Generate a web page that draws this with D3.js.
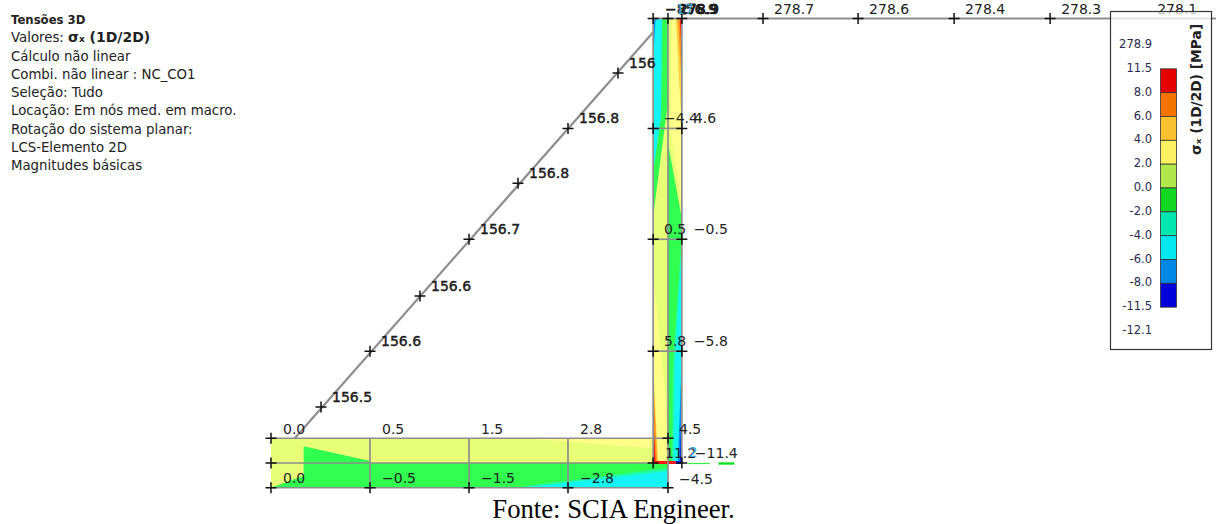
<!DOCTYPE html>
<html>
<head>
<meta charset="utf-8">
<script src="https://d3js.org/d3.v7.min.js"></script>
<style>
  html, body { margin: 0; background: #fff; }
  text { font-family: "DejaVu Sans", sans-serif; fill: #222; }
</style>
</head>
<body>
<div id="app"></div>
<script>
// info block, top left
const infoLines = ['Tensões 3D', 'Valores: ', 'Cálculo não linear', 'Combi. não linear : NC_CO1', 'Seleção: Tudo',
  'Locação: Em nós med. em macro.', 'Rotação do sistema planar:', 'LCS-Elemento 2D', 'Magnitudes básicas']

// legend
const legendTicks = ['278.9', '11.5', '8.0', '6.0', '4.0', '2.0', '0.0', '-2.0', '-4.0', '-6.0', '-8.0', '-11.5', '-12.1']
const legendColors = ['#e60000', '#f57300', '#f9c02f', '#fbf060', '#b0e84a', '#10d820', '#00e8b0', '#00e8f0', '#0088e8', '#0000d8']

// stress levels (MPa) of the contour bands, high to low
const bandLevels = [10, 7, 5, 3, 1, -1, -3, -5, -7, -10]
const bandColors = ['#ff1414', '#ff8c1e', '#ffcf40', '#ffff88', '#e8ff78', '#30ff50', '#20ffa8', '#14f4f4', '#0090f4', '#0020e0']

// geometry in metres
const wallX = [3.86, 4.01, 4.15]
const wallY = [0, 1.13, 2.26, 3.38, 4.49]
const slabX = [0, 1, 2, 3]
const slabY = [0.25, 0, -0.25]
const beamX = [4.97, 5.93, 6.9, 7.87, 8.84]
const diagX = [0.505, 1, 1.505, 2, 2.495, 3, 3.505]
const diagY = [0.566, 1.13, 1.687, 2.26, 2.826, 3.38, 3.94]
const diagEnds = [[0.24, 0.25], [3.86, 4.35]]

// labels
const beamLabels = ['278.7', '278.6', '278.4', '278.3', '278.1']
const diagLabels = ['156.5', '156.6', '156.6', '156.7', '156.8', '156.8', '156']
const slabTopLabels = ['0.0', '0.5', '1.5', '2.8']
const slabBottomLabels = ['0.0', '−0.5', '−1.5', '−2.8']
const wallLeftLabels = ['5.8', '0.5', '−4.4']
const wallRightLabels = ['−5.8', '−0.5', '4.6']

// contour polygons: level + outline in metres, painted in order
const slabZones = [
  [1, [[0, 0.25], [3.86, 0.25], [3.86, 0], [0, 0]]],
  [3, [[2.55, 0.25], [3.86, 0.25], [3.86, 0.15]]],
  [-1, [[0.33, 0.17], [1, 0.02], [1, 0], [0.33, 0]]],
  [-1, [[0, 0], [4.01, 0], [4.01, -0.25], [0, -0.25]]],
  [1, [[0, 0], [0.33, 0], [0.33, -0.13], [0, -0.25]]],
  [-3, [[2.45, -0.25], [4.01, -0.05], [4.01, -0.25]]],
  [-5, [[2.55, -0.25], [4.01, -0.08], [4.01, -0.25]]]
]
const wallZones = [
  [1, [[3.86, 0], [4.15, 0], [4.15, 4.49], [3.86, 4.49]]],
  // left half
  [-1, [[3.86, 4.49], [4.01, 4.49], [4.01, 3.65], [3.86, 2.49]]],
  [-5, [[3.86, 4.49], [3.95, 4.49], [3.94, 3.5], [3.86, 2.94]]],
  [-7, [[3.86, 4.49], [3.885, 4.49], [3.86, 4.05]]],
  [3, [[3.86, 1.9], [3.99, 0.6], [4, 0], [3.86, 0]]],
  [5, [[3.86, 1], [3.91, 0], [3.86, 0]]],
  [7, [[3.86, 0.9], [3.9, 0], [3.86, 0]]],
  [10, [[3.86, 0.45], [3.885, 0], [3.86, 0]]],
  // right half
  [3, [[4.05, 4.49], [4.15, 4.49], [4.15, 2.6], [4.03, 3.4]]],
  [5, [[4.09, 4.49], [4.15, 4.49], [4.15, 3.4], [4.12, 3.9]]],
  [7, [[4.11, 4.49], [4.15, 4.49], [4.15, 3.8]]],
  [10, [[4.13, 4.49], [4.15, 4.49], [4.15, 4.1]]],
  [-1, [[4.01, 3.18], [4.02, 3.18], [4.15, 2.47], [4.15, 0], [4.01, 0]]],
  [-3, [[4.15, 2.3], [4.06, 1], [4.05, 0], [4.15, 0]]],
  [-5, [[4.15, 2.2], [4.08, 1], [4.07, 0], [4.15, 0]]],
  [-7, [[4.15, 1.1], [4.11, 0], [4.15, 0]]],
  [-10, [[4.15, 0.7], [4.13, 0], [4.15, 0]]],
  // stress peaks along the base of the wall
  [10, [[3.86, 0.02], [4.09, 0.02], [4.09, -0.01], [3.86, -0.01]]],
  [-10, [[4.09, 0.02], [4.15, 0.02], [4.15, -0.01], [4.09, -0.01]]]
]

const W = 1216, H = 524
const svg = d3.select('#app').append('svg').attr('width', W).attr('height', H).style('display', 'block')

const x = d3.scaleLinear().domain([0, 1]).range([271, 370])
const y = d3.scaleLinear().domain([0, 1]).range([463, 364])
const band = d3.scaleOrdinal().domain(bandLevels).range(bandColors)
const outline = d3.line().x(d => x(d[0])).y(d => y(d[1]))

// contour bands
svg.append('g').selectAll('path').data(slabZones.concat(wallZones)).join('path')
  .attr('d', d => outline(d[1]) + 'Z')
  .attr('fill', d => band(d[0]))

// member outlines
const grey = svg.append('g').attr('stroke', '#8e8e8e').attr('stroke-width', 1.7).attr('fill', 'none')
function seg(a, b, sw) {
  grey.append('path').attr('d', outline([a, b])).attr('stroke-width', sw || null)
}
slabY.forEach(v => seg([0, v], [v < 0 ? wallX[1] : wallX[0], v]))
seg([wallX[1], 0], [wallX[1], slabY[2]])
slabX.slice(1).forEach(v => seg([v, slabY[0]], [v, slabY[2]]))
wallX.forEach(v => seg([v, 0], [v, wallY[4]]))
seg([wallX[0], slabY[0]], [wallX[1], slabY[0]])
wallY.slice(1, 4).forEach(v => seg([wallX[0], v], [wallX[2], v]))
seg(diagEnds[0], diagEnds[1], 2.2)
seg([wallX[0], wallY[4]], [12.3, wallY[4]], 2)

// node crosses
const crossPts = []
diagX.forEach((v, i) => crossPts.push([v, diagY[i]]))
beamX.slice(0, 4).forEach(v => crossPts.push([v, wallY[4]]))
wallX.forEach(v => crossPts.push([v, wallY[4]]))
;[wallX[0], wallX[2]].forEach(v => wallY.slice(1, 4).forEach(h => crossPts.push([v, h])))
slabX.forEach(v => crossPts.push([v, slabY[2]]))
crossPts.push([0, slabY[0]], [0, slabY[1]], [wallX[0], 0], [wallX[2], 0], [wallX[1], slabY[0]], [wallX[1], slabY[2]])
svg.append('g').selectAll('path').data(crossPts).join('path')
  .attr('d', d => `M${x(d[0]) - 5.5},${y(d[1])}h11M${x(d[0])},${y(d[1]) - 5.5}v11`)
  .attr('stroke', '#111').attr('stroke-width', 1.5).attr('fill', 'none')

// value labels
function labels(list, xs, ys, dx, dy, heavy) {
  svg.append('g').selectAll('text').data(list).join('text')
    .attr('x', (d, i) => x(xs[i]) + dx)
    .attr('y', (d, i) => y(ys[i]) + dy)
    .attr('font-size', 14)
    .attr('stroke', heavy ? '#111' : null)
    .attr('stroke-width', heavy ? 0.4 : null)
    .text(d => d)
}
labels(beamLabels, beamX, beamX.map(() => wallY[4]), 11, -4)
labels(diagLabels, diagX, diagY, 11, -5, true)
labels(slabTopLabels, slabX, slabX.map(() => slabY[0]), 12, -4)
labels(slabBottomLabels, slabX, slabX.map(() => slabY[2]), 12, -5)
labels(wallLeftLabels, wallX.map(() => wallX[1]), wallY.slice(1, 4), -4, -5)
labels(wallRightLabels, wallX.map(() => wallX[2]), wallY.slice(1, 4), 12, -5)
labels(['4.5', '−4.5'], [wallX[1], wallX[1]], [slabY[0], slabY[2]], 11, -4)
labels(['11.2'], [wallX[1]], [0], -3, -5)
labels(['−11.4'], [wallX[2]], [0], 13, -5)
labels(['−856.9', '278.9', '278.9'], [wallX[1], wallX[2], wallX[2]], [wallY[4], wallY[4], wallY[4]], -3, -4, true)
labels(['17'], [wallX[2]], [wallY[4]], -6, -4)
labels(['2'], [wallX[2]], [0], 7, -6)
svg.selectAll('text').filter(function () { return this.textContent === '17' || this.textContent === '2' })
  .style('fill', '#3aa6d8')

// the peak markers next to -11.4
svg.append('path').attr('d', outline([[4.21, -0.005], [4.43, -0.005]])).attr('stroke', '#30f040').attr('stroke-width', 1.2)
svg.append('path').attr('d', outline([[4.52, -0.005], [4.68, -0.005]])).attr('stroke', '#10e020').attr('stroke-width', 2.4)

// info block
const info = svg.append('g').attr('font-size', 13.3)
info.selectAll('text').data(infoLines).join('text')
  .attr('x', 11).attr('y', (d, i) => 24 + i * 18.25)
  .attr('font-weight', (d, i) => i === 0 ? 'bold' : null)
  .attr('font-size', (d, i) => i === 0 ? 11.7 : null)
  .text(d => d)
const sigma = info.selectAll('text').filter((d, i) => i === 1)
sigma.append('tspan').attr('font-weight', 'bold').attr('font-size', 14).text('σₓ (1D/2D)')

// legend box sits over the beam, beam shows through faintly
const legend = svg.append('g')
legend.append('rect').attr('x', 1110.5).attr('y', 11.5).attr('width', 101).attr('height', 338)
  .attr('fill', 'rgba(255,255,255,0.75)').attr('stroke', '#333').attr('stroke-width', 1.2)
const legY = d3.scaleLinear().domain([0, legendTicks.length - 1]).range([44, 330])
legend.selectAll('.tick').data(legendTicks).join('text').attr('class', 'tick')
  .attr('x', 1152).attr('y', (d, i) => legY(i) + 4).attr('text-anchor', 'end')
  .attr('font-size', 11.5).style('fill', '#2a2a50').text(d => d)
legend.selectAll('rect.cell').data(legendColors).join('rect').attr('class', 'cell')
  .attr('x', 1160.5).attr('width', 16)
  .attr('y', (d, i) => legY(i + 1) + 1).attr('height', (d, i) => legY(i + 2) - legY(i + 1))
  .attr('fill', d => d).attr('stroke', '#333').attr('stroke-width', 0.8)
legend.append('text').attr('transform', 'translate(1201,155) rotate(-90)')
  .attr('font-size', 13.8).attr('font-weight', 'bold').text('σₓ (1D/2D) [MPa]')

// caption
svg.append('text').attr('x', 613.5).attr('y', 517.5).attr('text-anchor', 'middle')
  .style('font-family', '"Liberation Serif", serif').style('fill', '#000')
  .attr('font-size', 26.7).text('Fonte: SCIA Engineer.')
</script>
</body>
</html>
